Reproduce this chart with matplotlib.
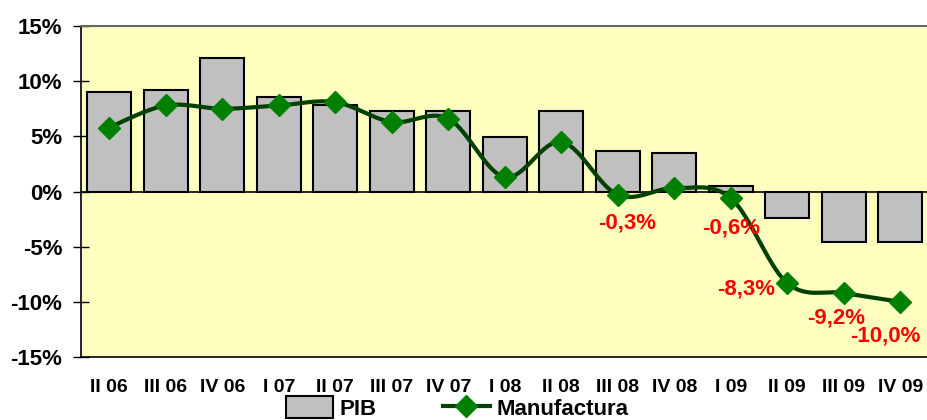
import matplotlib
matplotlib.use("Agg")
import matplotlib.pyplot as plt
import numpy as np

plt.rcParams['font.family'] = ['Liberation Sans', 'DejaVu Sans']
plt.rcParams['font.weight'] = 'bold'

quarters = ["II 06", "III 06", "IV 06", "I 07", "II 07", "III 07", "IV 07", "I 08",
            "II 08", "III 08", "IV 08", "I 09", "II 09", "III 09", "IV 09"]
pib = [9.0, 9.2, 12.1, 8.6, 7.8, 7.3, 7.3, 4.9, 7.3, 3.7, 3.5, 0.5, -2.4, -4.6, -4.6]
manufactura = [5.8, 7.8, 7.5, 7.8, 8.1, 6.3, 6.6, 1.3, 4.5, -0.3, 0.3, -0.6, -8.3, -9.2, -10.0]

# labelled points: index -> (label, offset in px)
labels = {9: ("-0,3%", (9, -28)), 11: ("-0,6%", (0, -30)), 12: ("-8,3%", (-41, -6)),
          13: ("-9,2%", (-8, -25)), 14: ("-10,0%", (-15, -34))}


def catmull_rom(x, y, n=20, tension=0.5):
    # smoothed line like the spreadsheet "smoothed line" option
    x = np.asarray(x, float)
    y = np.asarray(y, float)
    px = np.concatenate([[x[0]], x, [x[-1]]])
    py = np.concatenate([[y[0]], y, [y[-1]]])
    xs, ys = [], []
    t = np.linspace(0, 1, n)
    for i in range(1, len(px) - 2):
        p0x, p1x, p2x, p3x = px[i - 1], px[i], px[i + 1], px[i + 2]
        p0y, p1y, p2y, p3y = py[i - 1], py[i], py[i + 1], py[i + 2]
        m1x, m2x = tension * (p2x - p0x), tension * (p3x - p1x)
        m1y, m2y = tension * (p2y - p0y), tension * (p3y - p1y)
        h00 = 2 * t**3 - 3 * t**2 + 1
        h10 = t**3 - 2 * t**2 + t
        h01 = -2 * t**3 + 3 * t**2
        h11 = t**3 - t**2
        xs.append(h00 * p1x + h10 * m1x + h01 * p2x + h11 * m2x)
        ys.append(h00 * p1y + h10 * m1y + h01 * p2y + h11 * m2y)
    return np.concatenate(xs), np.concatenate(ys)


fig = plt.figure(figsize=(9.27, 4.2), dpi=100)
ax = fig.add_axes([81 / 927, 63 / 420, 847.5 / 927, 331 / 420])
ax.set_facecolor('#FFFFC0')

x = np.arange(len(quarters))
bars = ax.bar(x, pib, width=0.78, color='#C0C0C0', edgecolor='black', linewidth=1.5,
              label='PIB', zorder=2)
ax.axhline(0, color='black', linewidth=1.2, zorder=3)

sx, sy = catmull_rom(x, manufactura)
ax.plot(sx, sy, color='#004000', linewidth=3, zorder=4)
ax.plot(x, manufactura, linestyle='none', marker='D', markersize=11.5,
        color='#008000', zorder=5)
line_handle, = ax.plot([], [], color='#004000', linewidth=3, marker='D',
                       markersize=11.5, markerfacecolor='#008000',
                       markeredgecolor='#008000', label='Manufactura')

for i, (txt, (dx, dy)) in labels.items():
    ax.annotate(txt, (x[i], manufactura[i]), xytext=(dx * 0.72, dy * 0.72),
                textcoords='offset points', ha='center', va='center',
                color='#FF0000', fontsize=16, fontweight='bold', zorder=6)

ax.set_xlim(-0.5, 14.5)
ax.set_ylim(-15, 15)
ax.set_yticks(np.arange(-15, 16, 5))
ax.set_yticklabels([f"{v}%" for v in range(-15, 16, 5)])
ax.set_xticks(x)
ax.set_xticklabels(quarters)
ax.tick_params(axis='y', direction='inout', length=11, width=1, labelsize=16, pad=8)
ax.tick_params(axis='x', length=0, labelsize=14, pad=16)

ax.spines['left'].set_color('black')
ax.spines['left'].set_linewidth(1.2)
ax.spines['bottom'].set_linewidth(1.2)
ax.spines['top'].set_color('#666666')
ax.spines['top'].set_linewidth(1.5)
ax.spines['right'].set_visible(False)

fig.legend(handles=[bars, line_handle], labels=['PIB', 'Manufactura'],
           loc='center left', bbox_to_anchor=(286 / 927, 12 / 420), ncol=2,
           frameon=False, fontsize=16, handlelength=2.1, handleheight=1.1,
           handletextpad=0.3, columnspacing=3.0, borderpad=0, borderaxespad=0)

fig.savefig('out.png', dpi=100)
